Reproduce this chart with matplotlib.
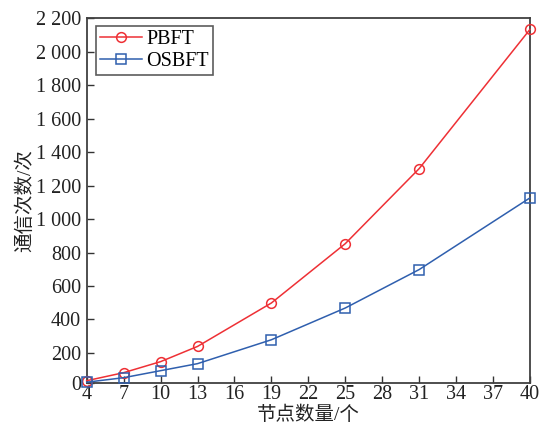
import matplotlib
matplotlib.use('Agg')
import matplotlib.pyplot as plt
from matplotlib.ticker import FuncFormatter

# 数据
nodes = [4, 7, 10, 13, 19, 25, 31, 40]
pbft = [33, 81, 147, 238, 498, 853, 1302, 2135]
osbft = [24, 51, 93, 135, 278, 468, 698, 1127]
x_ticks = [4, 7, 10, 13, 16, 19, 22, 25, 28, 31, 34, 37, 40]
y_ticks = [21, 200, 400, 600, 800, 1000, 1200, 1400, 1600, 1800, 2000, 2200]

fonts = ['Liberation Serif', 'Noto Sans CJK SC']
plt.rcParams['font.family'] = fonts
plt.rcParams['axes.unicode_minus'] = False

fig = plt.figure(figsize=(5.4, 4.25), dpi=100)
ax = fig.add_axes([0.1605, 0.0995, 0.821, 0.857])

ax.plot(nodes, pbft, color='#ee3035', marker='o', markersize=7, markerfacecolor='none',
        markeredgewidth=1.1, linewidth=1.1, label='PBFT', clip_on=False, zorder=3)
ax.plot(nodes, osbft, color='#2f5fae', marker='s', markersize=7, markerfacecolor='none',
        markeredgewidth=1.1, linewidth=1.1, label='OSBFT', clip_on=False, zorder=3)

ax.set_xlim(4, 40)
ax.set_ylim(21, 2200)
ax.set_xticks(x_ticks)
ax.set_yticks(y_ticks)


def fmt(v, pos):
    if v < 100:
        return '0'
    return '{:,}'.format(int(v)).replace(',', ' ')


ax.yaxis.set_major_formatter(FuncFormatter(fmt))
ax.tick_params(direction='in', length=5, width=1, colors='#333333', labelsize=14.5,
               labelcolor='#222222')
ax.tick_params(axis='y', pad=4)
ax.tick_params(axis='x', pad=2)
for s in ax.spines.values():
    s.set_color('#404040')
    s.set_linewidth(1.3)

ax.set_xlabel('节点数量/个', fontsize=14, labelpad=1, color='#222222')
ax.set_ylabel('通信次数/次', fontsize=14, labelpad=1, color='#222222')

leg = ax.legend(loc='upper left', fontsize=14.5, frameon=True, fancybox=False,
                edgecolor='#333333', handlelength=2.1, handletextpad=0.2,
                borderpad=0.2, labelspacing=0.12, borderaxespad=0,
                bbox_to_anchor=(0.021, 0.979))
leg.get_frame().set_linewidth(1.2)

plt.savefig('out.png', dpi=100)
